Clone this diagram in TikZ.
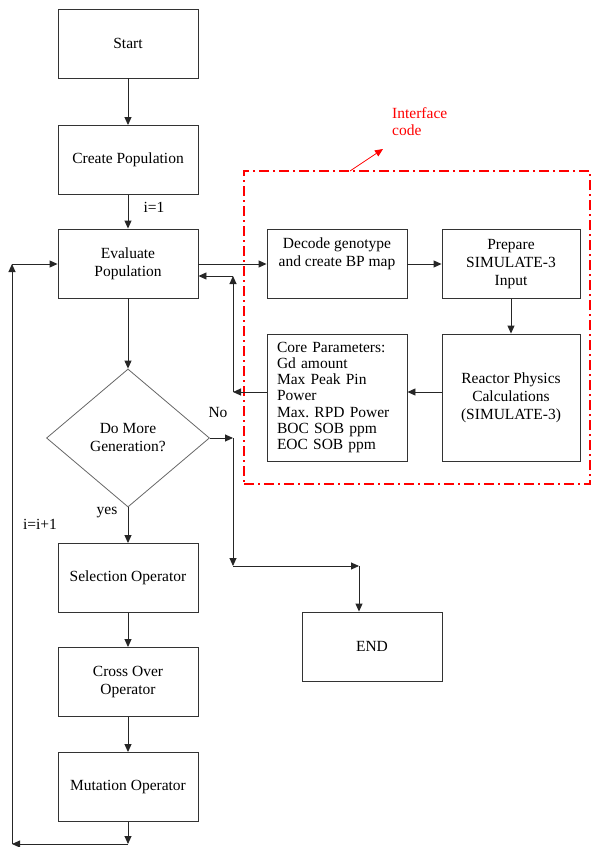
\documentclass[tikz,border=0pt]{standalone}
\usepackage{fontspec}
\setmainfont{Liberation Serif}
\usetikzlibrary{arrows.meta,shapes.geometric}
\frenchspacing
\begin{document}
\begin{tikzpicture}[x=1pt,y=-1pt,
  box/.style={draw=black!80, line width=0.9pt, minimum width=140pt, minimum height=69pt, inner sep=0pt, align=center, font=\fontsize{15.5}{18}\selectfont},
  conn/.style={draw=black!85, line width=0.9pt, -{Triangle[length=8pt,width=7pt]}},
  lab/.style={font=\fontsize{15.5}{18}\selectfont, inner sep=0pt},
  ifc/.style={draw=red, line width=1.8pt, dash pattern=on 10pt off 4pt on 2pt off 4pt},
]
\useasboundingbox (0,0) rectangle (592,847);
% main column
\node[box] (start) at (128,43.5) {Start};
\node[box] (create) at (128,160) {Create Population};
\node[box] (eval) at (128,263.5) {Evaluate\\Population};
\node[diamond, draw=black!60, line width=0.8pt, minimum width=163pt, minimum height=138pt, inner sep=0pt, align=center, font=\fontsize{15.5}{18}\selectfont] (dia) at (128,438) {Do More\\Generation?};
\node[box] (select) at (128,578) {Selection Operator};
\node[box] (cross) at (128,682) {Cross Over\\Operator};
\node[box] (mutate) at (128,787) {Mutation Operator};
\node[box] (endn) at (372,646.5) {END};
% interface
\node[ifc, minimum width=346pt, minimum height=313pt, inner sep=0pt] (iface) at (417,327.5) {};
\node[box] (decode) at (337,264) {Decode genotype\\and create BP map\\\strut};
\node[box, minimum width=138pt] (prep) at (511,264) {Prepare\\SIMULATE-3\\Input};
\node[box, minimum width=138pt, minimum height=127pt] (reactor) at (511,397.5) {Reactor Physics\\Calculations\\(SIMULATE-3)};
\node[box, minimum height=127pt, text width=120pt, inner xsep=10pt, align=left, font=\fontsize{15.5}{16.3}\selectfont] (core) at (337,397.5) {Core Parameters:\\Gd amount\\Max Peak Pin\\Power\\Max. RPD Power\\BOC SOB ppm\\EOC SOB ppm};
% labels
\node[lab, red, align=left, anchor=north west, font=\fontsize{15.5}{17}\selectfont] (ilab) at (392,107) {Interface\\code};
\node[lab] (l1) at (154,207) {i=1};
\node[lab] (lyes) at (107,513) {yes};
\node[lab] (lii) at (40,524) {i=i+1};
\node[lab] (lno) at (218,412) {No};
% coordinates
\coordinate (b1) at (128,844);
\coordinate (b2) at (12,844);
\coordinate (b3) at (12,264);
\coordinate (j1) at (233,392);
\coordinate (j2) at (233,276);
\coordinate (j3) at (233,438);
\coordinate (j4) at (233,566);
\coordinate (j5) at (359,566);
\coordinate (ia) at (350,171);
\coordinate (itip) at (383,149);
% connectors
\draw[conn] (start) -- (create);
\draw[conn] (create) -- (eval);
\draw[conn] (eval) -- (dia);
\draw[conn] (dia) -- (select);
\draw[conn] (select) -- (cross);
\draw[conn] (cross) -- (mutate);
\draw[conn] (mutate) -- (b1);
\draw[conn] (b1) -- (b2);
\draw[conn] (b2) -- (b3);
\draw[conn] (b3) -- (eval.west |- b3);
\draw[conn] (eval.east |- decode) -- (decode);
\draw[conn] (decode) -- (prep);
\draw[conn] (prep) -- (reactor);
\draw[conn] (reactor.west |- j1) -- (core.east |- j1);
\draw[conn] (core.west |- j1) -- (j1);
\draw[conn] (j1) -- (j2);
\draw[conn] (j2) -- (eval.east |- j2);
\draw[conn] (dia.east) -- (j3);
\draw[conn] (j3) -- (j4);
\draw[conn] (j4) -- (j5);
\draw[conn] (j5) -- (j5 |- endn.north);
\draw[red, line width=0.8pt, -{Triangle[length=8pt,width=7pt]}] (ia) -- (itip);
\end{tikzpicture}
\end{document}
